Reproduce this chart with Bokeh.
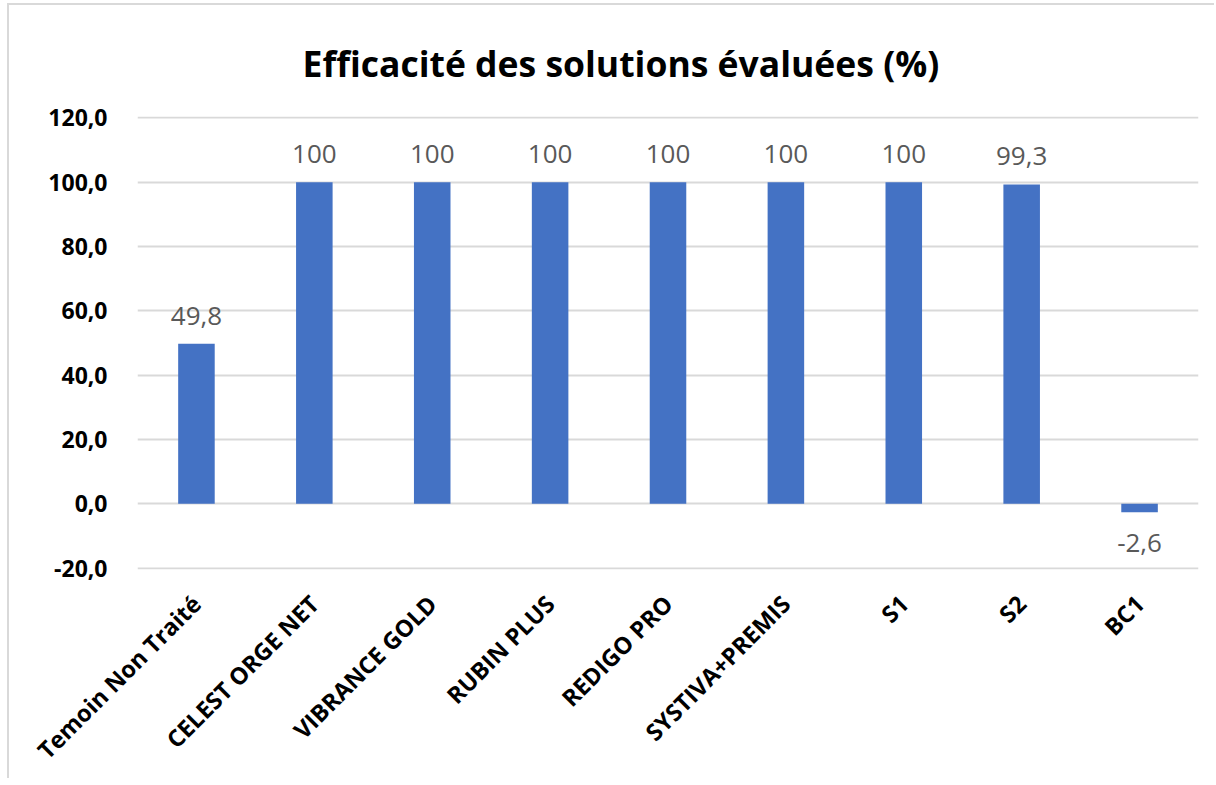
import math
from bokeh.plotting import figure
from bokeh.models import Range1d, FactorRange, FixedTicker, CustomJSTickFormatter, ColumnDataSource
from bokeh.core.properties import value
from bokeh.embed import file_html
from bokeh.resources import INLINE

categories = ["Temoin Non Traité", "CELEST ORGE NET", "VIBRANCE GOLD", "RUBIN PLUS",
              "REDIGO PRO", "SYSTIVA+PREMIS", "S1", "S2", "BC1"]
values = [49.8, 100, 100, 100, 100, 100, 100, 99.3, -2.6]
y_ticks = [-20, 0, 20, 40, 60, 80, 100, 120]


def fmt(v):
    if float(v).is_integer():
        return str(int(v))
    return f"{v:.1f}".replace(".", ",")


labels = [fmt(v) for v in values]
offsets = [-19 if v >= 0 else 22 for v in values]
baselines = ["bottom" if v >= 0 else "top" for v in values]

src = ColumnDataSource(dict(cat=categories, val=values, lab=labels, off=offsets, base=baselines))

p = figure(width=1207, height=775, output_backend="svg", toolbar_location=None,
           x_range=FactorRange(factors=categories, range_padding=0),
           y_range=Range1d(-20.4, 120.4),
           min_border_left=128, min_border_right=18, min_border_top=111, min_border_bottom=211)
p.styles = {"margin-left": "7px", "margin-top": "3px",
            "border-left": "2px solid #d9d9d9", "border-top": "2px solid #d9d9d9"}

p.title.text = "Efficacité des solutions évaluées (%)"
p.title.text_font = "Open Sans"
p.title.text_font_size = "35.5px"
p.title.text_font_style = "bold"
p.title.text_color = "#000000"
p.title.align = "left"
p.title.offset = 165
p.title.standoff = 60

p.outline_line_color = None
p.xgrid.grid_line_color = None
p.ygrid.grid_line_color = "#d9d9d9"
p.ygrid.grid_line_width = 2
p.ygrid.ticker = FixedTicker(ticks=y_ticks)

p.vbar(x="cat", top="val", bottom=0, width=0.31, source=src,
       fill_color="#4472C4", line_color=None)

p.text(x="cat", y="val", text="lab", y_offset="off", text_baseline="base", source=src,
       text_align="center", text_font=value("Open Sans"), text_font_size="26px",
       text_color="#595959")

ya = p.yaxis[0]
ya.ticker = FixedTicker(ticks=y_ticks)
ya.formatter = CustomJSTickFormatter(code="return tick.toFixed(1).replace('.', ',');")
ya.axis_line_color = None
ya.major_tick_line_color = None
ya.minor_tick_line_color = None
ya.major_label_standoff = 24
ya.major_label_text_font = "Open Sans"
ya.major_label_text_font_style = "bold"
ya.major_label_text_font_size = "23px"
ya.major_label_text_color = "#000000"

xa = p.xaxis[0]
xa.axis_line_color = None
xa.major_tick_line_color = None
xa.minor_tick_line_color = None
xa.major_label_orientation = math.pi / 4
xa.major_label_standoff = 24
xa.major_label_text_font = "Open Sans"
xa.major_label_text_font_style = "bold"
xa.major_label_text_font_size = "23.5px"
xa.major_label_text_color = "#000000"

open("out.html", "w").write(file_html(p, INLINE))
